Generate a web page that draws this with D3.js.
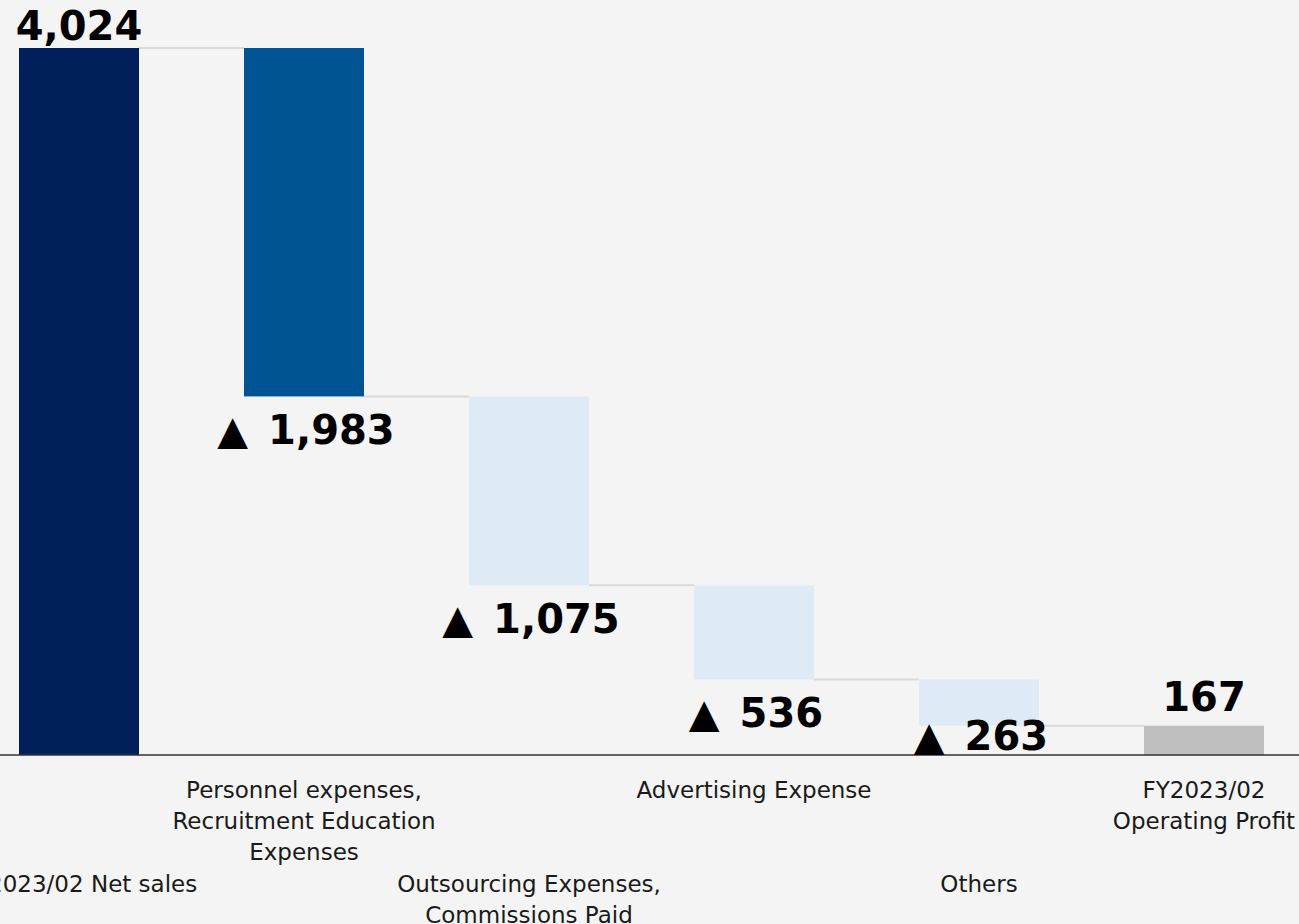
<!DOCTYPE html>
<html>
<head>
<meta charset="utf-8">
<script src="https://cdn.jsdelivr.net/npm/d3@7"></script>
<style>
  html, body { margin: 0; padding: 0; background: #f4f4f4; }
  svg { display: block; }
</style>
</head>
<body>
<svg id="chart" width="1299" height="924"></svg>
<script>
// Operating profit bridge, FY2023/02 (JPY millions)
const categories = [
  ["FY2023/02 Net sales"],
  ["Personnel expenses,", "Recruitment Education", "Expenses"],
  ["Outsourcing Expenses,", "Commissions Paid"],
  ["Advertising Expense"],
  ["Others"],
  ["FY2023/02", "Operating Profit"]
];
const kinds = ["total", "cost", "cost", "cost", "cost", "total"];
const values = [4024, 1983, 1075, 536, 263, 167];
const valueLabels = ["4,024", "▲\u20021,983", "▲\u20021,075", "▲\u2002536", "▲\u2002263", "167"];
const barColors = ["#001f5b", "#005494", "#deeaf6", "#deeaf6", "#deeaf6", "#bfbfbf"];

// running start/end levels for each step
let level = 0;
const steps = values.map((v, i) => {
  let lo, hi;
  if (kinds[i] === "total") { lo = 0; hi = v; level = v; }
  else { hi = level; lo = level - v; level = lo; }
  return { i, lo, hi, v };
});

const svg = d3.select("#chart");
const W = 1299, baseY = 755;

const x = d3.scaleBand()
  .domain(d3.range(values.length))
  .range([-33.5, 1316.5])
  .paddingInner(105 / 225)
  .paddingOuter(52.5 / 225);

const y = d3.scaleLinear().domain([0, 4024]).range([baseY, 48]);

// connectors between consecutive bars
svg.append("g").selectAll("line")
  .data(steps.slice(0, -1))
  .join("line")
  .attr("x1", d => x(d.i) + x.bandwidth())
  .attr("x2", d => x(d.i + 1))
  .attr("y1", d => y(kinds[d.i] === "total" ? d.hi : d.lo))
  .attr("y2", d => y(kinds[d.i] === "total" ? d.hi : d.lo))
  .attr("stroke", "#d9d9d9")
  .attr("stroke-width", 2);

// bars
svg.append("g").selectAll("rect")
  .data(steps)
  .join("rect")
  .attr("x", d => x(d.i))
  .attr("width", x.bandwidth())
  .attr("y", d => y(d.hi))
  .attr("height", d => y(d.lo) - y(d.hi))
  .attr("fill", (d, i) => barColors[i]);

// baseline axis
const axis = svg.append("g").attr("transform", `translate(0,${baseY})`)
  .call(d3.axisBottom(x).tickSize(0).tickFormat(""));
axis.select(".domain").attr("d", `M0,0H${W}`).attr("stroke", "#333").attr("stroke-width", 1.5);

// value labels
svg.append("g").selectAll("text")
  .data(steps)
  .join("text")
  .attr("x", d => x(d.i) + x.bandwidth() / 2 + (kinds[d.i] === "cost" ? 2 : 0))
  .attr("y", d => kinds[d.i] === "total"
      ? Math.max(40, y(d.hi) - 15)
      : Math.min(750, y(d.lo) + 48))
  .attr("text-anchor", "middle")
  .attr("font-family", "'DejaVu Sans', Verdana, sans-serif")
  .attr("font-weight", "bold")
  .attr("font-size", 40)
  .attr("fill", "#000")
  .text((d, i) => valueLabels[i]);

// category labels, staggered in two rows
const catG = svg.append("g")
  .attr("font-family", "'DejaVu Sans', Verdana, sans-serif")
  .attr("font-size", 23)
  .attr("fill", "#1a1a1a")
  .attr("text-anchor", "middle");
categories.forEach((lines, i) => {
  const top = i % 2 === 0 ? 892 : 798;
  const t = catG.append("text")
    .attr("x", x(i) + x.bandwidth() / 2)
    .attr("y", top);
  lines.forEach((ln, k) => {
    t.append("tspan")
      .attr("x", x(i) + x.bandwidth() / 2)
      .attr("dy", k === 0 ? 0 : 31)
      .text(ln);
  });
});
</script>
</body>
</html>
